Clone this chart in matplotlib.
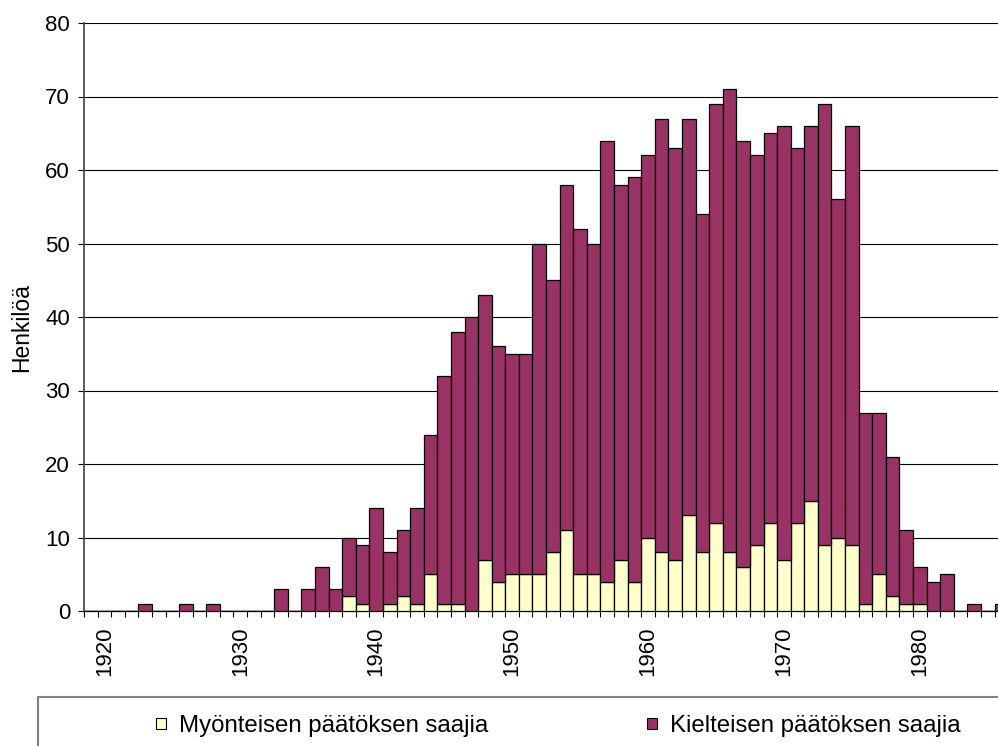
import numpy as np
import matplotlib
matplotlib.use('Agg')
import matplotlib.pyplot as plt
from matplotlib.patches import Patch
from matplotlib.lines import Line2D

# vuodet 1919-1986
vuodet = list(range(1919, 1987))

myonteiset = [0, 0, 0, 0, 0, 0, 0, 0, 0, 0,          # 1919-1928
              0, 0, 0, 0, 0, 0, 0, 0, 0, 2,          # 1929-1938
              1, 0, 1, 2, 1, 5, 1, 1, 0, 7,          # 1939-1948
              4, 5, 5, 5, 8, 11, 5, 5, 4, 7,         # 1949-1958
              4, 10, 8, 7, 13, 8, 12, 8, 6, 9,       # 1959-1968
              12, 7, 12, 15, 9, 10, 9, 1, 5, 2,      # 1969-1978
              1, 1, 0, 0, 0, 0, 0, 0]                # 1979-1986

kielteiset = [0, 0, 0, 0, 1, 0, 0, 1, 0, 1,          # 1919-1928
              0, 0, 0, 0, 3, 0, 3, 6, 3, 8,          # 1929-1938
              8, 14, 7, 9, 13, 19, 31, 37, 40, 36,   # 1939-1948
              32, 30, 30, 45, 37, 47, 47, 45, 60, 51,  # 1949-1958
              55, 52, 59, 56, 54, 46, 57, 63, 58, 53,  # 1959-1968
              53, 59, 51, 51, 60, 46, 57, 26, 22, 19,  # 1969-1978
              10, 5, 4, 5, 0, 1, 0, 1]               # 1979-1986

nimet = ['Myönteisen päätöksen saajia', 'Kielteisen päätöksen saajia']
varit = ['#FFFFCC', '#993366']

plt.rcParams['font.family'] = ['Liberation Sans', 'DejaVu Sans']

fig = plt.figure(figsize=(9.98, 7.46), dpi=100)
ax = fig.add_axes([84 / 998, 135 / 746, 914 / 998, 588 / 746])

x = np.arange(len(vuodet))
ax.bar(x, myonteiset, width=1.0, color=varit[0], edgecolor='black', linewidth=0.9, zorder=3)
ax.bar(x, kielteiset, width=1.0, bottom=myonteiset, color=varit[1], edgecolor='black',
       linewidth=0.9, zorder=3)

# y-akseli
ax.set_yticks(range(0, 81, 10))
ax.tick_params(axis='y', labelsize=16, length=4.5, width=0.8, pad=5.5, direction='out')
ax.yaxis.grid(True, color='black', linewidth=0.8, zorder=0)

# x-akseli: merkit luokkien rajoilla, nimiöt joka kymmenes vuosi
nimio_idx = [i for i, v in enumerate(vuodet) if v % 10 == 0]
ax.set_xticks(nimio_idx)
ax.set_xticklabels([str(vuodet[i]) for i in nimio_idx], rotation=90, fontsize=16)
ax.set_xticks(np.arange(-0.5, len(vuodet), 1), minor=True)
ax.tick_params(axis='x', which='major', length=0, pad=11)
ax.tick_params(axis='x', which='minor', length=4.5, width=0.8, direction='out')

# rajat vasta tikkien jälkeen, ettei set_xticks levennä niitä
ax.set_xlim(-0.5, -0.5 + 914 / 13.59)
ax.set_ylim(0, 80)

for s in ['top', 'right']:
    ax.spines[s].set_visible(False)
ax.spines['left'].set_color('#404040')
ax.spines['left'].set_linewidth(1.2)
ax.spines['bottom'].set_color('black')
ax.spines['bottom'].set_linewidth(0.9)

fig.text(22 / 998, 1 - 327.5 / 746, 'Henkilöä', rotation=90, ha='center', va='center',
         fontsize=16.5)

# selitteen kehys (jatkuu kuvan reunan yli)
fig.add_artist(Line2D([38 / 998, 38 / 998, 1.0], [0.0, 1 - 697 / 746, 1 - 697 / 746],
                      transform=fig.transFigure, color='#808080', linewidth=1.5))

kahvat = [Patch(facecolor=varit[0], edgecolor='black', linewidth=0.8),
          Patch(facecolor=varit[1], edgecolor='black', linewidth=0.8)]
fig.legend(kahvat, nimet, ncol=2, loc='center left', bbox_to_anchor=(156 / 998, 1 - 726 / 746),
           frameon=False, fontsize=17.3, handlelength=0.4, handleheight=0.35,
           handletextpad=0.56, columnspacing=6.6, borderpad=0, borderaxespad=0)

fig.savefig('out.png', dpi=100)
